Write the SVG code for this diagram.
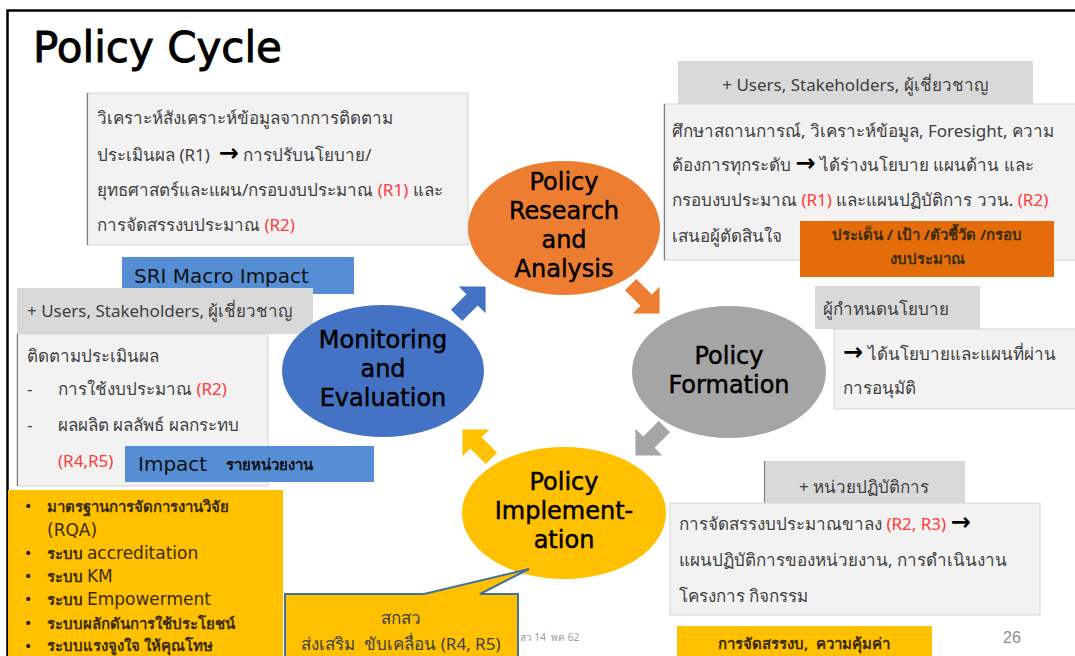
<svg xmlns="http://www.w3.org/2000/svg" width="1075" height="656" viewBox="0 0 1075 656">
<style>
.frame{stroke:#000;stroke-width:2.5;fill:none}
.body{fill:#f2f2f2;stroke:#d6d6d6;stroke-width:1}
.hdr{fill:#d9d9d9}
.edge{stroke:#7f7f7f;stroke-width:1.2}
.t{font-family:"Noto Sans","DejaVu Sans",sans-serif;font-size:17px;fill:#404040;white-space:pre}
.r{fill:#ff3b3b}
.arw{font-family:"DejaVu Sans",sans-serif;font-weight:bold;font-size:24px;fill:#000}
.el{font-family:"DejaVu Sans",sans-serif;font-size:24px;fill:#000;text-anchor:middle;stroke:#000;stroke-width:0.5}
.blue{fill:#558ed5}
.bt{font-family:"DejaVu Sans",sans-serif;font-size:20px;fill:#111}
.y{font-family:"Noto Sans","DejaVu Sans",sans-serif;font-size:15px;fill:#3a2c00;font-weight:bold;white-space:pre}
.ye{font-family:"DejaVu Sans",sans-serif;font-size:17px;fill:#3a2c00;font-weight:normal}
</style>
<defs>
<path id="ba" d="M-19,-8 H3 V-19 L22,0 L3,19 V8 H-19 Z"/>
</defs>
<rect width="1075" height="656" fill="#fff"/>
<path class="frame" d="M1075,10.5 H7.5 V656"/>
<text x="33" y="62" font-family="DejaVu Sans, sans-serif" font-size="42" fill="#000" stroke="#000" stroke-width="0.9">Policy Cycle</text>

<g id="research-note">
<rect class="body" x="87" y="93" width="381" height="152"/>
<line class="edge" x1="87.5" y1="93" x2="87.5" y2="245"/>
<text class="t" x="97" y="124">วิเคราะห์สังเคราะห์ข้อมูลจากการติดตาม</text>
<text class="t" x="97" y="161">ประเมินผล (R1)  <tspan class="arw">→</tspan> การปรับนโยบาย/</text>
<text class="t" x="97" y="196">ยุทธศาสตร์และแผน/กรอบงบประมาณ <tspan class="r">(R1)</tspan> และ</text>
<text class="t" x="97" y="231">การจัดสรรงบประมาณ <tspan class="r">(R2)</tspan></text>
</g>

<g id="sri-macro">
<rect class="blue" x="122" y="257" width="232" height="37"/>
<text class="bt" x="134" y="283">SRI Macro Impact</text>
</g>

<g id="monitoring-note">
<rect class="body" x="17" y="334" width="251" height="152"/>
<line class="edge" x1="17.5" y1="334" x2="17.5" y2="486"/>
<rect class="hdr" x="17" y="288" width="296" height="46"/>
<text class="t" x="27" y="317">+ Users, Stakeholders, ผู้เชี่ยวชาญ</text>
<text class="t" x="27" y="362">ติดตามประเมินผล</text>
<text class="t" x="27" y="395">-</text>
<text class="t" x="58" y="395">การใช้งบประมาณ <tspan class="r">(R2)</tspan></text>
<text class="t" x="27" y="431">-</text>
<text class="t" x="58" y="431">ผลผลิต ผลลัพธ์ ผลกระทบ</text>
<text class="t r" x="58" y="467">(R4,R5)</text>
</g>

<g id="impact-unit">
<rect class="blue" x="125" y="446" width="249" height="36"/>
<text class="bt" x="138" y="471" font-size="21">Impact</text>
<text x="226" y="470" font-family="Noto Sans, DejaVu Sans, sans-serif" font-size="15" font-weight="bold" fill="#111">รายหน่วยงาน</text>
</g>

<g id="connectors">
<use href="#ba" fill="#4472c4" transform="translate(470,302) rotate(-45)"/>
<use href="#ba" fill="#ed7d31" transform="translate(644,298) rotate(45)"/>
<use href="#ba" fill="#a5a5a5" transform="translate(651,440) rotate(135)"/>
<use href="#ba" fill="#ffc000" transform="translate(478,445) rotate(-135)"/>
</g>

<g id="node-research">
<ellipse cx="564" cy="228" rx="96" ry="67" fill="#ed7d31"/>
<text class="el" x="564" y="190">Policy</text>
<text class="el" x="564" y="219">Research</text>
<text class="el" x="564" y="248">and</text>
<text class="el" x="564" y="277">Analysis</text>
</g>

<g id="node-formation">
<ellipse cx="729" cy="372" rx="97" ry="66" fill="#a5a5a5"/>
<text class="el" x="729" y="364">Policy</text>
<text class="el" x="729" y="393">Formation</text>
</g>

<g id="node-implementation">
<ellipse cx="564" cy="513" rx="102" ry="66" fill="#ffc000"/>
<text class="el" x="564" y="490">Policy</text>
<text class="el" x="564" y="519">Implement-</text>
<text class="el" x="564" y="548">ation</text>
</g>

<g id="node-monitoring">
<ellipse cx="383" cy="371" rx="101" ry="66" fill="#4472c4"/>
<text class="el" x="383" y="348">Monitoring</text>
<text class="el" x="383" y="377">and</text>
<text class="el" x="383" y="406">Evaluation</text>
</g>

<g id="analysis-note">
<rect class="hdr" x="678" y="61" width="355" height="43"/>
<text class="t" x="855" y="91" text-anchor="middle">+ Users, Stakeholders, ผู้เชี่ยวชาญ</text>
<rect class="body" x="664" y="104" width="412" height="156"/>
<line class="edge" x1="664.5" y1="104" x2="664.5" y2="260"/>
<text class="t" x="672" y="137">ศึกษาสถานการณ์, วิเคราะห์ข้อมูล, Foresight, ความ</text>
<text class="t" x="672" y="171">ต้องการทุกระดับ <tspan class="arw">→</tspan> ได้ร่างนโยบาย แผนด้าน และ</text>
<text class="t" x="672" y="206">กรอบงบประมาณ <tspan class="r">(R1)</tspan> และแผนปฏิบัติการ ววน. <tspan class="r">(R2)</tspan></text>
<text class="t" x="672" y="242">เสนอผู้ตัดสินใจ</text>
</g>

<g id="issue-box">
<rect x="800" y="221" width="254" height="56" fill="#e46c0a"/>
<text class="y" x="927" y="240" text-anchor="middle" font-size="14">ประเด็น / เป้า /ตัวชี้วัด /กรอบ</text>
<text class="y" x="927" y="264" text-anchor="middle" font-size="14">งบประมาณ</text>
</g>

<g id="formation-note">
<rect class="hdr" x="815" y="286" width="165" height="43"/>
<text class="t" x="823" y="315">ผู้กำหนดนโยบาย</text>
<rect class="body" x="834" y="329" width="242" height="80"/>
<text class="t" x="843" y="360"><tspan class="arw">→</tspan> ได้นโยบายและแผนที่ผ่าน</text>
<text class="t" x="843" y="394">การอนุมัติ</text>
</g>

<g id="implementation-note">
<rect class="hdr" x="764" y="461" width="201" height="42"/>
<line class="edge" x1="764.5" y1="461" x2="764.5" y2="503"/>
<text class="t" x="864" y="493" text-anchor="middle">+ หน่วยปฏิบัติการ</text>
<rect class="body" x="670" y="503" width="370" height="112"/>
<text class="t" x="679" y="530">การจัดสรรงบประมาณขาลง <tspan class="r">(R2, R3)</tspan> <tspan class="arw">→</tspan></text>
<text class="t" x="679" y="566">แผนปฏิบัติการของหน่วยงาน, การดำเนินงาน</text>
<text class="t" x="679" y="602">โครงการ กิจกรรม</text>
</g>

<g id="value-box">
<rect x="677" y="626" width="255" height="31" fill="#ffc000"/>
<text class="y" x="804" y="649" text-anchor="middle" font-size="16">การจัดสรรงบ,  ความคุ้มค่า</text>
</g>

<text x="520" y="641" font-family="Noto Sans, DejaVu Sans, sans-serif" font-size="10" fill="#9a9a9a" style="white-space:pre">สว 14  พค 62</text>
<text x="1003" y="643" font-family="Liberation Sans, sans-serif" font-size="16" fill="#8c8c8c">26</text>

<g id="systems-box">
<rect x="8" y="490" width="275" height="167" fill="#ffc000"/>
<g font-family="DejaVu Sans, sans-serif" font-size="14" fill="#222">
<text x="24" y="511">•</text><text x="24" y="558">•</text><text x="24" y="581">•</text><text x="24" y="604">•</text><text x="24" y="628">•</text><text x="24" y="651">•</text>
</g>
<text class="y" x="47" y="512">มาตรฐานการจัดการงานวิจัย</text>
<text class="ye" x="47" y="536">(RQA)</text>
<text class="y" x="47" y="559">ระบบ <tspan class="ye">accreditation</tspan></text>
<text class="y" x="47" y="582">ระบบ <tspan class="ye">KM</tspan></text>
<text class="y" x="47" y="605">ระบบ <tspan class="ye">Empowerment</tspan></text>
<text class="y" x="47" y="629">ระบบผลักดันการใช้ประโยชน์</text>
<text class="y" x="47" y="651" font-size="14">ระบบแรงจูงใจ ให้คุณโทษ</text>
</g>

<g id="callout">
<path d="M285,594 H424 L529,569 L480,594 H518 V660 H285 Z" fill="#ffc000" stroke="#41719c" stroke-width="2"/>
<text class="t" x="401" y="624" text-anchor="middle" font-size="15" fill="#333">สกสว</text>
<text class="t" x="401" y="650" text-anchor="middle" font-size="15" fill="#333">ส่งเสริม  ขับเคลื่อน (R4, R5)</text>
</g>
</svg>
